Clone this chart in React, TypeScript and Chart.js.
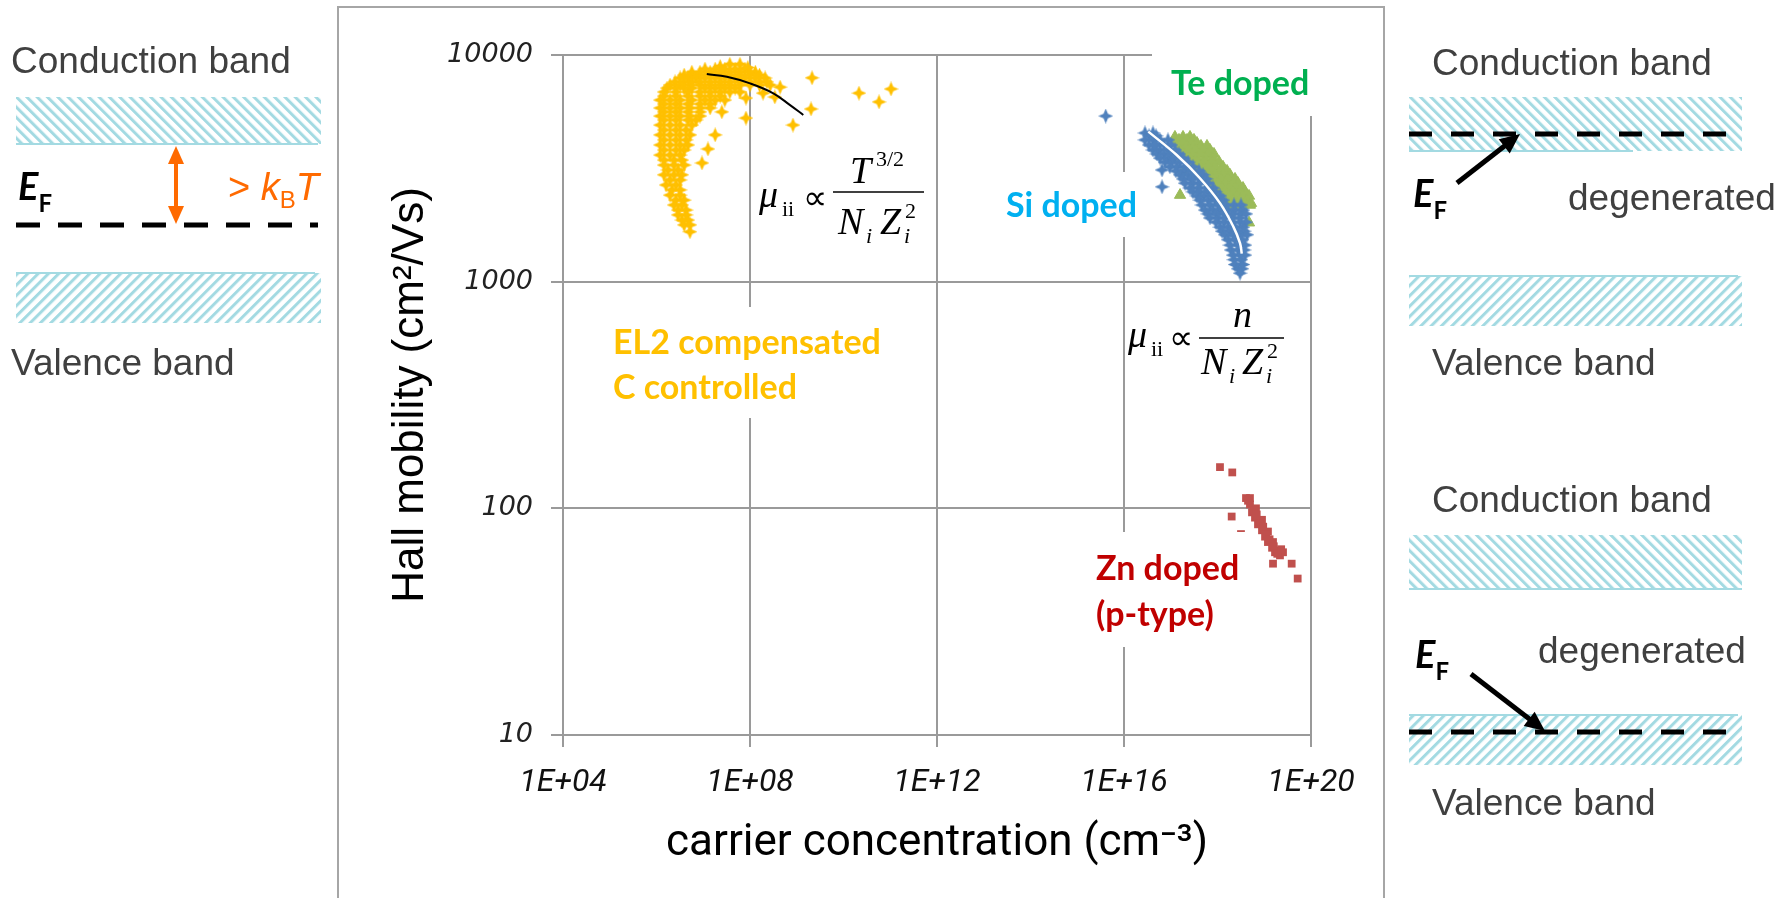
import React, { useEffect, useRef } from "react";
import { Chart, registerables } from "chart.js";

Chart.register(...registerables);

// ---- axis ticks ----
const xTickValues = [1e4, 1e8, 1e12, 1e16, 1e20];
const xTickLabels = ["1E+04", "1E+08", "1E+12", "1E+16", "1E+20"];
const yTickValues = [10, 100, 1000, 10000];
const yTickLabels = ["10", "100", "1000", "10000"];

// ---- EL2 compensated, C controlled (semi-insulating): [carrier conc. cm^-3, Hall mobility cm^2/Vs] ----
const el2Points: [number, number][] = [
  [2.3e7, 8900], [3.7e7, 9100], [6.1e7, 9100], [9e7, 8800],
  [1.09e7, 8670], [1.8e7, 8670], [2.9e7, 8670], [4.8e7, 8670], [7.8e7, 8670],
  [5.7e6, 8400], [8.5e6, 8400], [1.4e7, 8400], [2.3e7, 8400], [3.7e7, 8400], [6.1e7, 8400], [1.0e8, 8400], [1.3e8, 8400],
  [3.9e6, 8160], [5.7e6, 8160], [8.5e6, 8160], [1.4e7, 8160], [2.3e7, 8160], [3.7e7, 8160], [6.1e7, 8160], [1.0e8, 8160], [1.6e8, 8160],
  [3.2e6, 7920], [4.7e6, 7920], [7.0e6, 7920], [1.09e7, 7920], [1.8e7, 7920], [2.9e7, 7920], [4.8e7, 7920], [7.8e7, 7920], [1.3e8, 7920], [2.1e8, 7920],
  [2.49e6, 7610], [3.9e6, 7610], [5.7e6, 7610], [8.5e6, 7610], [1.4e7, 7610], [2.3e7, 7610], [3.7e7, 7610], [6.1e7, 7610], [1.0e8, 7610], [1.6e8, 7610], [2.3e8, 7610],
  [1.95e6, 7370], [3.2e6, 7370], [5.2e6, 7370], [8.5e6, 7370], [1.4e7, 7370], [2.3e7, 7370], [3.7e7, 7370], [6.1e7, 7370], [1.0e8, 7370], [1.6e8, 7370], [2.7e8, 7370],
  [1.68e6, 7150], [2.6e6, 7150], [3.9e6, 7150], [5.7e6, 7150], [1.09e7, 7150], [1.8e7, 7150], [2.9e7, 7150], [4.8e7, 7150],
  [1.45e6, 6870], [2.6e6, 6870], [4.7e6, 6870], [8.5e6, 6870], [1.4e7, 6870], [2.3e7, 6870], [3.7e7, 6870], [6.1e7, 6870],
  [1.45e6, 6590], [2.6e6, 6590], [4.7e6, 6590], [8.5e6, 6590], [1.4e7, 6590], [2.3e7, 6590],
  [1.2e6, 6330], [1.95e6, 6330], [3.2e6, 6330], [5.7e6, 6330], [1.09e7, 6330], [1.8e7, 6330], [2.9e7, 6330],
  [1.45e6, 6080], [2.6e6, 6080], [4.7e6, 6080], [8.5e6, 6080], [1.4e7, 6080],
  [1.2e6, 5840], [1.95e6, 5840], [3.2e6, 5840], [5.2e6, 5840], [8.5e6, 5840], [1.4e7, 5840],
  [1.45e6, 5610], [2.6e6, 5610], [4.7e6, 5610], [8.5e6, 5610],
  [1.2e6, 5380], [1.95e6, 5380], [3.2e6, 5380], [5.2e6, 5380], [8.5e6, 5380],
  [1.45e6, 5170], [2.6e6, 5170], [4.7e6, 5170], [7.0e6, 5170],
  [1.2e6, 4910], [1.95e6, 4910], [3.2e6, 4910], [5.7e6, 4910],
  [1.45e6, 4670], [2.6e6, 4670], [4.3e6, 4670],
  [1.2e6, 4440], [1.95e6, 4440], [3.2e6, 4440], [5.2e6, 4440],
  [1.45e6, 4220], [2.6e6, 4220], [4.3e6, 4220],
  [1.2e6, 4010], [1.95e6, 4010], [3.2e6, 4010], [4.7e6, 4010],
  [1.45e6, 3810], [2.6e6, 3810], [3.9e6, 3810],
  [1.2e6, 3620], [1.95e6, 3620], [3.2e6, 3620],
  [1.45e6, 3440], [2.37e6, 3440], [3.5e6, 3440],
  [1.45e6, 3270], [2.37e6, 3270], [3.9e6, 3270],
  [1.76e6, 3110], [2.9e6, 3110],
  [1.45e6, 2960], [2.37e6, 2960], [3.5e6, 2960],
  [1.95e6, 2810], [3.2e6, 2810],
  [1.6e6, 2670], [2.6e6, 2670],
  [2.15e6, 2540], [3.2e6, 2540],
  [1.95e6, 2410], [3.2e6, 2410],
  [2.6e6, 2290], [3.9e6, 2290],
  [2.37e6, 2180], [3.5e6, 2180],
  [2.9e6, 2070], [4.3e6, 2070],
  [2.9e6, 1970], [4.3e6, 1970],
  [3.5e6, 1870], [4.7e6, 1870],
  [3.9e6, 1780], [5.2e6, 1780],
  [5.2e6, 1660],
  // scattered stars
  [2.12e9, 7930], [2.14e10, 6790], [1.04e11, 7080], [5.75e10, 6210], [2.02e9, 5780], [8.3e8, 4910],
  [4.4e8, 7220], [3.4e8, 6530], [1.9e8, 6790], [8.2e7, 6460], [8.2e7, 5270], [2.5e7, 5610],
  [1.8e7, 4440], [1.26e7, 3850], [9.4e6, 3340],
];
const el2Fit: [number, number][] = [
  [1.19e7, 8240], [3.2e7, 8020], [1.0e8, 7500], [3.15e8, 6780], [7.2e8, 6010], [1.38e9, 5440],
];

// ---- Si doped ----
const siPoints: [number, number][] = [
  [2.81e16, 4530], [4.17e16, 4530],
  [3.43e16, 4400], [4.84e16, 4400],
  [2.81e16, 4220], [4.17e16, 4220], [5.89e16, 4220], [8.73e16, 4220],
  [3.43e16, 4010], [4.84e16, 4010], [7.18e16, 4010], [1.01e17, 4010],
  [4.17e16, 3810], [5.89e16, 3810], [8.73e16, 3810], [1.23e17, 3810],
  [5.08e16, 3660], [7.18e16, 3660], [1.01e17, 3660], [1.5e17, 3660],
  [5.89e16, 3510], [8.73e16, 3510], [1.23e17, 3510], [1.83e17, 3510],
  [7.54e16, 3370], [1.06e17, 3370], [1.58e17, 3370], [2.34e17, 3370],
  [9.6e16, 3210], [1.36e17, 3210], [2.02e17, 3210], [2.99e17, 3210],
  [1.29e17, 3080], [1.92e17, 3080], [2.85e17, 3080], [4.02e17, 3080],
  [1.58e17, 2960], [2.34e17, 2960], [3.3e17, 2960], [4.9e17, 2960],
  [1.83e17, 2840], [2.71e17, 2840], [4.02e17, 2840], [5.68e17, 2840],
  [2.02e17, 2720], [2.99e17, 2720], [4.22e17, 2720], [6.26e17, 2720],
  [2.58e17, 2590], [3.83e17, 2590], [5.68e17, 2590], [8.0e17, 2590],
  [2.99e17, 2490], [4.22e17, 2490], [6.26e17, 2490], [8.85e17, 2490],
  [3.64e17, 2390], [5.14e17, 2390], [7.62e17, 2390], [1.13e18, 2390],
  [4.22e17, 2290], [6.26e17, 2290], [8.85e17, 2290], [1.31e18, 2290],
  [4.66e17, 2180], [6.92e17, 2180], [1.03e18, 2180], [1.52e18, 2180], [2.25e18, 2180], [3.18e18, 2180],
  [5.41e17, 2070], [8.0e17, 2070], [1.13e18, 2070], [1.68e18, 2070], [2.37e18, 2070], [3.51e18, 2070],
  [6.26e17, 1990], [9.29e17, 1990], [1.38e18, 1990], [2.04e18, 1990], [3.03e18, 1990], [4.07e18, 1990],
  [6.92e17, 1910], [1.03e18, 1910], [1.45e18, 1910], [2.15e18, 1910], [3.03e18, 1910],
  [9.29e17, 1830], [1.38e18, 1830], [2.04e18, 1830], [3.03e18, 1830], [4.07e18, 1830],
  [1.13e18, 1740], [1.68e18, 1740], [2.37e18, 1740], [3.51e18, 1740],
  [1.25e18, 1670], [1.85e18, 1670], [2.61e18, 1670], [3.69e18, 1670],
  [1.45e18, 1610], [2.15e18, 1610], [3.03e18, 1610], [4.27e18, 1610],
  [1.68e18, 1530], [2.37e18, 1530], [3.34e18, 1530],
  [1.85e18, 1450], [2.75e18, 1450], [3.87e18, 1450],
  [1.95e18, 1380], [2.75e18, 1380], [3.69e18, 1380],
  [2.15e18, 1310], [3.03e18, 1310], [3.87e18, 1310],
  [2.25e18, 1250], [3.18e18, 1250],
  [2.37e18, 1190], [3.51e18, 1190],
  [2.75e18, 1140], [3.34e18, 1140],
  [3.03e18, 1090],
  [6.5e16, 3110], [6.5e16, 2620], [4.6e16, 4010], [4.07e15, 5380],
];
const siFit: [number, number][] = [
  [3.31e16, 4590], [1.34e17, 3620], [4.22e17, 2860], [1.13e18, 2220], [2.18e18, 1750], [3.03e18, 1480], [3.3e18, 1330],
];

// ---- Te doped ----
const tePoints: [number, number][] = [
  [1.23e17, 4350], [1.83e17, 4350], [2.58e17, 4350],
  [1.5e17, 4220], [2.23e17, 4220], [3.14e17, 4220],
  [1.23e17, 4090], [1.83e17, 4090], [2.58e17, 4090], [3.64e17, 4090],
  [1.5e17, 3970], [2.23e17, 3970], [3.14e17, 3970], [4.43e17, 3970], [5.96e17, 3970],
  [1.58e17, 3810], [2.34e17, 3810], [3.3e17, 3810], [4.9e17, 3810], [6.92e17, 3810],
  [1.92e17, 3660], [2.85e17, 3660], [4.22e17, 3660], [6.26e17, 3660], [8.41e17, 3660],
  [1.83e17, 3510], [2.58e17, 3510], [3.64e17, 3510], [5.41e17, 3510], [8.0e17, 3510],
  [2.58e17, 3370], [3.64e17, 3370], [5.14e17, 3370], [7.62e17, 3370], [1.08e18, 3370],
  [2.99e17, 3210], [4.22e17, 3210], [6.26e17, 3210], [8.85e17, 3210], [1.31e18, 3210],
  [3.64e17, 3080], [5.14e17, 3080], [7.62e17, 3080], [1.13e18, 3080], [1.6e18, 3080],
  [4.22e17, 2960], [6.26e17, 2960], [8.85e17, 2960], [1.31e18, 2960], [1.85e18, 2960],
  [5.68e17, 2840], [8.0e17, 2840], [1.19e18, 2840], [1.68e18, 2840], [2.37e18, 2840],
  [6.92e17, 2720], [1.03e18, 2720], [1.45e18, 2720], [2.15e18, 2720], [2.75e18, 2720],
  [8.41e17, 2590], [1.25e18, 2590], [1.76e18, 2590], [2.49e18, 2590], [3.51e18, 2590],
  [1.03e18, 2490], [1.45e18, 2490], [2.15e18, 2490], [3.03e18, 2490], [3.87e18, 2490],
  [1.25e18, 2390], [1.85e18, 2390], [2.61e18, 2390], [3.69e18, 2390], [4.72e18, 2390],
  [1.45e18, 2290], [2.15e18, 2290], [3.03e18, 2290], [4.27e18, 2290],
  [1.85e18, 2220], [2.75e18, 2220], [3.87e18, 2220], [5.21e18, 2220],
  [2.37e18, 2180], [3.51e18, 2180], [4.95e18, 2180],
  [1.83e17, 3050], [1.58e17, 2410], [4.72e18, 1820],
];

// ---- Zn doped (p-type) ----
const znPoints: [number, number][] = [
  [1.13e18, 152], [2.07e18, 144], [2.01e18, 92], [3.18e18, 77],
  [4.07e18, 111], [4.95e18, 104], [5.47e18, 96], [6.34e18, 91], [7.35e18, 85], [8.95e18, 80],
  [1.04e19, 75], [1.2e19, 71], [1.47e19, 67], [1.7e19, 64], [2.17e19, 62], [2.52e19, 64],
  [4.95e18, 111], [6.65e18, 100], [8.95e18, 89], [1.2e19, 79], [1.54e19, 71], [1.97e19, 65],
  [4.5e18, 108], [5.9e18, 98], [6.9e18, 94], [8.0e18, 86], [9.5e18, 83], [1.1e19, 77], [1.3e19, 73], [1.6e19, 68], [1.9e19, 63], [2.3e19, 66],
  [1.54e19, 57], [3.86e19, 57], [5.19e19, 49],
];

const toXY = (pts: [number, number][]) => pts.map(([x, y]) => ({ x, y }));

function starMarker(color: string, size: number): HTMLCanvasElement {
  const c = document.createElement("canvas");
  c.width = size;
  c.height = size;
  const ctx = c.getContext("2d")!;
  const r = size / 2;
  const ir = size * 0.21;
  ctx.fillStyle = color;
  ctx.beginPath();
  for (let i = 0; i < 8; i++) {
    const a = (i * Math.PI) / 4 - Math.PI / 2;
    const rr = i % 2 === 0 ? r : ir;
    ctx.lineTo(r + rr * Math.cos(a), r + rr * Math.sin(a));
  }
  ctx.closePath();
  ctx.fill();
  return c;
}

const HATCH = "#a3dae2";
const ORANGE = "#ff6a00";
const BAND_TEXT = "#404040";
const SANS = "'Liberation Sans', Arial, sans-serif";
const SERIF = "'Liberation Serif', 'Times New Roman', serif";
const LABEL = "Lato, 'Open Sans', sans-serif";

function Arrow({ x1, y1, x2, y2, color, width, head, headW }: any) {
  const dx = x2 - x1, dy = y2 - y1;
  const len = Math.hypot(dx, dy);
  const ux = dx / len, uy = dy / len;
  const bx = x2 - ux * head, by = y2 - uy * head;
  const px = -uy * headW / 2, py = ux * headW / 2;
  return (
    <g>
      <line x1={x1} y1={y1} x2={bx + ux * 2} y2={by + uy * 2} stroke={color} strokeWidth={width} />
      <polygon points={`${x2},${y2} ${bx + px},${by + py} ${bx - px},${by - py}`} fill={color} />
    </g>
  );
}

function EF({ x, y }: { x: number; y: number }) {
  return (
    <text x={x} y={y} fontFamily={LABEL} fontWeight="bold" fill="#000">
      <tspan fontStyle="italic" fontSize={38}>E</tspan>
      <tspan fontSize={24} dy={12}>F</tspan>
    </text>
  );
}

function Diagrams() {
  const bandTxt = { fontFamily: SANS, fontSize: 37, fill: BAND_TEXT } as any;
  const lbl = { fontFamily: LABEL, fontWeight: "bold", fontSize: 34 } as any;
  return (
    <svg width={1792} height={898} style={{ position: "absolute", left: 0, top: 0 }}>
      <defs>
        <pattern id="hBack" patternUnits="userSpaceOnUse" width="7.3" height="10" patternTransform="rotate(-45)">
          <rect x="0" y="0" width="3" height="10" fill={HATCH} />
        </pattern>
        <pattern id="hFwd" patternUnits="userSpaceOnUse" width="7.3" height="10" patternTransform="rotate(45)">
          <rect x="0" y="0" width="3" height="10" fill={HATCH} />
        </pattern>
      </defs>

      {/* plot frame */}
      <rect x={338} y={7} width={1046} height={900} fill="none" stroke="#a6a6a6" strokeWidth={2} />

      {/* left diagram */}
      <text x={11} y={73} {...bandTxt}>Conduction band</text>
      <rect x={16} y={97} width={305} height={47} fill="url(#hBack)" />
      <line x1={16} x2={318} y1={144} y2={144} stroke={HATCH} strokeWidth={2} />
      <EF x={18} y={200} />
      <line x1={16} x2={318} y1={225} y2={225} stroke="#000" strokeWidth={5} strokeDasharray="24 18" />
      <Arrow x1={176} y1={186} x2={176} y2={146} color={ORANGE} width={4} head={18} headW={16} />
      <Arrow x1={176} y1={186} x2={176} y2={224} color={ORANGE} width={4} head={18} headW={16} />
      <text x={228} y={200} fontFamily={SANS} fontSize={38} fill={ORANGE}>
        {"> "}
        <tspan fontStyle="italic">k</tspan>
        <tspan fontSize={24} dy={8}>B</tspan>
        <tspan fontStyle="italic" dy={-8}>T</tspan>
      </text>
      <rect x={16} y={273} width={305} height={50} fill="url(#hFwd)" />
      <line x1={16} x2={315} y1={273} y2={273} stroke={HATCH} strokeWidth={2} />
      <text x={11} y={375} {...bandTxt}>Valence band</text>

      {/* right top diagram */}
      <text x={1432} y={75} {...bandTxt}>Conduction band</text>
      <rect x={1409} y={97} width={333} height={54} fill="url(#hBack)" />
      <line x1={1409} x2={1633} y1={151} y2={151} stroke={HATCH} strokeWidth={2} />
      <line x1={1409} x2={1727} y1={134} y2={134} stroke="#000" strokeWidth={5} strokeDasharray="23 19" />
      <Arrow x1={1457} y1={183} x2={1520} y2={134} color="#000" width={5} head={20} headW={18} />
      <EF x={1413} y={207} />
      <text x={1568} y={210} {...bandTxt}>degenerated</text>
      <rect x={1409} y={276} width={333} height={50} fill="url(#hFwd)" />
      <line x1={1409} x2={1738} y1={276} y2={276} stroke={HATCH} strokeWidth={2} />
      <text x={1432} y={375} {...bandTxt}>Valence band</text>

      {/* right bottom diagram */}
      <text x={1432} y={512} {...bandTxt}>Conduction band</text>
      <rect x={1409} y={535} width={333} height={54} fill="url(#hBack)" />
      <line x1={1409} x2={1742} y1={589} y2={589} stroke={HATCH} strokeWidth={2} />
      <text x={1538} y={663} {...bandTxt}>degenerated</text>
      <EF x={1415} y={668} />
      <rect x={1409} y={715} width={333} height={50} fill="url(#hFwd)" />
      <line x1={1409} x2={1738} y1={715} y2={715} stroke={HATCH} strokeWidth={2} />
      <line x1={1409} x2={1727} y1={732} y2={732} stroke="#000" strokeWidth={5} strokeDasharray="23 19" />
      <Arrow x1={1471} y1={674} x2={1545} y2={731} color="#000" width={5} head={20} headW={18} />
      <text x={1432} y={815} {...bandTxt}>Valence band</text>

      {/* labels in plot (white boxes hide grid lines) */}
      <rect x={1152} y={38} width={170} height={78} fill="#fff" />
      <text x={1171} y={95} {...lbl} fill="#00b050">Te doped</text>
      <rect x={1000} y={172} width={140} height={65} fill="#fff" />
      <text x={1006} y={217} {...lbl} fill="#00b0f0">Si doped</text>
      <rect x={605} y={307} width={290} height={111} fill="#fff" />
      <text x={613} y={354} {...lbl} fill="#ffc000">EL2 compensated</text>
      <text x={613} y={399} {...lbl} fill="#ffc000">C controlled</text>
      <rect x={1090} y={532} width={155} height={115} fill="#fff" />
      <text x={1096} y={580} {...lbl} fill="#c00000">Zn doped</text>
      <text x={1096} y={626} {...lbl} fill="#c00000">(p-type)</text>

      {/* equation 1 */}
      <g fontFamily={SERIF} fill="#000">
        <text x={759} y={207} fontStyle="italic" fontSize={38}>μ</text>
        <text x={782} y={216} fontSize={22}>ii</text>
        <text x={803} y={209} fontSize={34}>∝</text>
        <line x1={833} x2={924} y1={192} y2={192} stroke="#000" strokeWidth={1.6} />
        <text x={850} y={183} fontStyle="italic" fontSize={38}>T</text>
        <text x={876} y={166} fontSize={22}>3/2</text>
        <text x={838} y={234} fontStyle="italic" fontSize={38}>N</text>
        <text x={866} y={243} fontStyle="italic" fontSize={22}>i</text>
        <text x={880} y={234} fontStyle="italic" fontSize={38}>Z</text>
        <text x={904} y={243} fontStyle="italic" fontSize={22}>i</text>
        <text x={905} y={218} fontSize={22}>2</text>
      </g>
      {/* equation 2 */}
      <g fontFamily={SERIF} fill="#000">
        <text x={1128} y={347} fontStyle="italic" fontSize={38}>μ</text>
        <text x={1151} y={356} fontSize={22}>ii</text>
        <text x={1169} y={349} fontSize={34}>∝</text>
        <line x1={1199} x2={1284} y1={338} y2={338} stroke="#000" strokeWidth={1.6} />
        <text x={1233} y={327} fontStyle="italic" fontSize={38}>n</text>
        <text x={1201} y={374} fontStyle="italic" fontSize={38}>N</text>
        <text x={1229} y={383} fontStyle="italic" fontSize={22}>i</text>
        <text x={1242} y={374} fontStyle="italic" fontSize={38}>Z</text>
        <text x={1266} y={383} fontStyle="italic" fontSize={22}>i</text>
        <text x={1267} y={358} fontSize={22}>2</text>
      </g>
    </svg>
  );
}

export default function App() {
  const canvasRef = useRef<HTMLCanvasElement | null>(null);

  useEffect(() => {
    const canvas = canvasRef.current;
    if (!canvas) return;
    const yellowStar = starMarker("#ffc000", 15);
    const blueStar = starMarker("#4f81bd", 15);
    const gridColor = "#9a9a9a";

    const chart = new Chart(canvas, {
      type: "scatter",
      data: {
        datasets: [
          {
            label: "EL2 fit",
            data: toXY(el2Fit),
            showLine: true,
            borderColor: "#000",
            borderWidth: 2,
            pointRadius: 0,
            tension: 0.4,
          },
          {
            label: "Si fit",
            data: toXY(siFit),
            showLine: true,
            borderColor: "#fff",
            borderWidth: 2.5,
            pointRadius: 0,
            tension: 0.4,
          },
          {
            label: "Si doped",
            data: toXY(siPoints),
            pointStyle: blueStar,
            pointRadius: 7,
            backgroundColor: "#4f81bd",
          },
          {
            label: "Te doped",
            data: toXY(tePoints),
            pointStyle: "triangle",
            pointRadius: 6.5,
            backgroundColor: "#9bbb59",
            borderColor: "#9bbb59",
            borderWidth: 1,
          },
          {
            label: "EL2 compensated",
            data: toXY(el2Points),
            pointStyle: yellowStar,
            pointRadius: 7,
            backgroundColor: "#ffc000",
          },
          {
            label: "Zn doped",
            data: toXY(znPoints),
            pointStyle: "rect",
            pointRadius: 5.5,
            backgroundColor: "#c0504d",
            borderColor: "#c0504d",
            borderWidth: 0,
          },
        ],
      } as any,
      options: {
        animation: false,
        responsive: false,
        maintainAspectRatio: false,
        events: [],
        layout: { padding: { left: 340, top: 55, right: 481, bottom: 0 } },
        plugins: { legend: { display: false }, tooltip: { enabled: false } },
        scales: {
          x: {
            type: "logarithmic",
            min: 1e4,
            max: 1e20,
            afterBuildTicks: (s: any) => {
              s.ticks = xTickValues.map((v) => ({ value: v }));
            },
            afterFit: (s: any) => {
              s.height = 163;
              s.paddingLeft = 0;
              s.paddingRight = 0;
            },
            ticks: {
              callback: (_v: any, i: number) => xTickLabels[i],
              autoSkip: false,
              maxRotation: 0,
              padding: 17,
              color: "#111",
              font: { family: "Roboto, sans-serif", size: 32, style: "italic" },
            },
            grid: { color: gridColor, lineWidth: 2, tickLength: 12 },
            border: { color: gridColor, width: 2 },
            title: {
              display: true,
              text: "carrier concentration (cm⁻³)",
              color: "#000",
              font: { family: "Roboto, sans-serif", size: 44 },
              padding: { top: 0, bottom: 28 },
            },
          },
          y: {
            type: "logarithmic",
            min: 10,
            max: 10000,
            afterBuildTicks: (s: any) => {
              s.ticks = yTickValues.map((v) => ({ value: v }));
            },
            afterFit: (s: any) => {
              s.width = 223;
              s.paddingTop = 0;
              s.paddingBottom = 0;
            },
            ticks: {
              callback: (_v: any, i: number) => yTickLabels[i],
              autoSkip: false,
              padding: 18,
              color: "#222",
              font: { family: "'DejaVu Sans', sans-serif", size: 27, style: "italic" },
            },
            grid: { color: gridColor, lineWidth: 2, tickLength: 12 },
            border: { color: gridColor, width: 2 },
            title: {
              display: true,
              text: "Hall mobility (cm²/Vs)",
              color: "#000",
              font: { family: SANS, size: 44 },
              padding: { top: 44, bottom: 0 },
            },
          },
        },
      } as any,
    });
    return () => chart.destroy();
  }, []);

  return (
    <div style={{ position: "absolute", left: 0, top: 0, width: 1792, height: 898, background: "#fff", overflow: "hidden" }}>
      <canvas ref={canvasRef} width={1792} height={898} style={{ position: "absolute", left: 0, top: 0, width: 1792, height: 898 }} />
      <Diagrams />
    </div>
  );
}
